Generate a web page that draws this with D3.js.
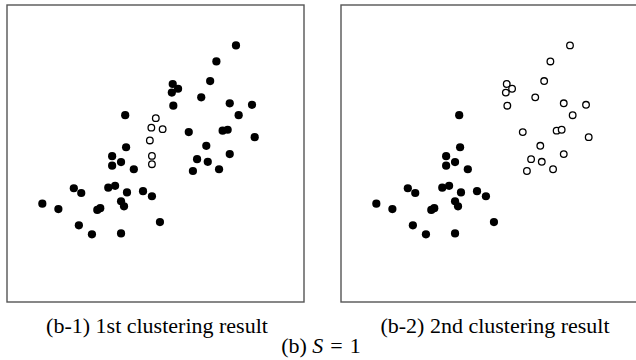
<!DOCTYPE html>
<html>
<head>
<meta charset="utf-8">
<script src="https://cdn.jsdelivr.net/npm/d3@7"></script>
<style>
  body { margin: 0; background: #fff; }
  svg { display: block; }
</style>
</head>
<body>
<svg id="chart"></svg>
<script>
// point coordinates (data units 0-100)
var xs = [77.1, 70.5, 68.4, 55.8, 57.6, 55.5, 65.4, 56.0, 75.0, 82.5,
  78.0, 39.8, 50.1, 48.6, 52.4, 61.2, 72.6, 74.3, 83.4, 48.1,
  40.1, 67.1, 35.4, 48.8, 38.4, 75.0, 64.0, 67.6, 35.4, 48.8,
  42.7, 62.6, 71.4, 22.5, 25.0, 34.1, 36.4, 40.4, 45.8, 48.8,
  11.9, 17.3, 30.4, 31.4, 38.4, 39.4, 51.5, 24.2, 28.6, 38.4]
var ys = [86.4, 81.0, 74.4, 73.4, 71.8, 70.5, 68.9, 66.1, 66.9, 66.4,
  62.9, 62.9, 61.9, 58.7, 58.2, 57.2, 57.7, 58.0, 55.5, 54.4,
  52.1, 52.6, 49.1, 49.2, 47.1, 49.8, 48.1, 47.2, 45.9, 46.4,
  44.7, 44.1, 44.7, 38.3, 36.7, 38.5, 39.1, 36.9, 37.3, 35.6,
  33.1, 31.3, 31.0, 31.6, 33.9, 32.2, 26.9, 25.8, 22.8, 23.1]
// cluster labels: 1 = filled, 0 = open, null = not shown
var round1 = [1, 1, 1, 1, 1, 1, 1, 1, 1, 1,
  1, 1, 0, 0, 0, 1, 1, 1, 1, 0,
  1, 1, 1, 0, 1, 1, 1, 1, 1, 0,
  1, 1, 1, 1, 1, 1, 1, 1, 1, 1,
  1, 1, 1, 1, 1, 1, 1, 1, 1, 1]
var round2 = [0, 0, 0, 0, 0, 0, 0, 0, 0, 0,
  0, 1, null, null, null, 0, 0, 0, 0, null,
  1, 0, 1, null, 1, 0, 0, 0, 1, null,
  1, 0, 0, 1, 1, 1, 1, 1, 1, 1,
  1, 1, 1, 1, 1, 1, 1, 1, 1, 1]
var captions = ["(b-1) 1st clustering result", "(b-2) 2nd clustering result"]

var width = 636, height = 360
var size = 297
var panels = [
  {left: 7, labels: round1, caption: captions[0], cx: 157},
  {left: 341, labels: round2, caption: captions[1], cx: 495}
]

var svg = d3.select("#chart")
  .attr("width", width)
  .attr("height", height)
  .style("font-family", "'Liberation Serif', 'Times New Roman', serif")

var x = d3.scaleLinear().domain([0, 100]).range([0, size])
var y = d3.scaleLinear().domain([0, 100]).range([size, 0])

var points = xs.map((d, i) => ({x: d, y: ys[i]}))

panels.forEach(p => {
  var g = svg.append("g").attr("transform", `translate(${p.left},5)`)

  g.append("rect")
    .attr("width", size)
    .attr("height", size)
    .attr("fill", "none")
    .attr("stroke", "#555")
    .attr("stroke-width", 1.4)

  var data = points.map((d, i) => ({x: d.x, y: d.y, c: p.labels[i]}))
    .filter(d => d.c !== null)

  g.selectAll("circle")
    .data(data)
    .join("circle")
    .attr("cx", d => x(d.x))
    .attr("cy", d => y(d.y))
    .attr("r", d => d.c === 1 ? 4.1 : 3.3)
    .attr("fill", d => d.c === 1 ? "#000" : "#fff")
    .attr("stroke", "#000")
    .attr("stroke-width", d => d.c === 1 ? 0 : 1.3)

  svg.append("text")
    .attr("x", p.cx)
    .attr("y", 333)
    .attr("text-anchor", "middle")
    .attr("font-size", 22)
    .text(p.caption)
})

// "(b) S = 1" with math-style spacing round the equals sign
var sub = svg.append("text")
  .attr("x", 321)
  .attr("y", 353)
  .attr("text-anchor", "middle")
  .attr("font-size", 22)
  .attr("xml:space", "preserve")
sub.append("tspan").text("(b) ")
sub.append("tspan").attr("font-style", "italic").text("S")
sub.append("tspan").attr("dx", 7).text("=")
sub.append("tspan").attr("dx", 7).text("1")
</script>
</body>
</html>
